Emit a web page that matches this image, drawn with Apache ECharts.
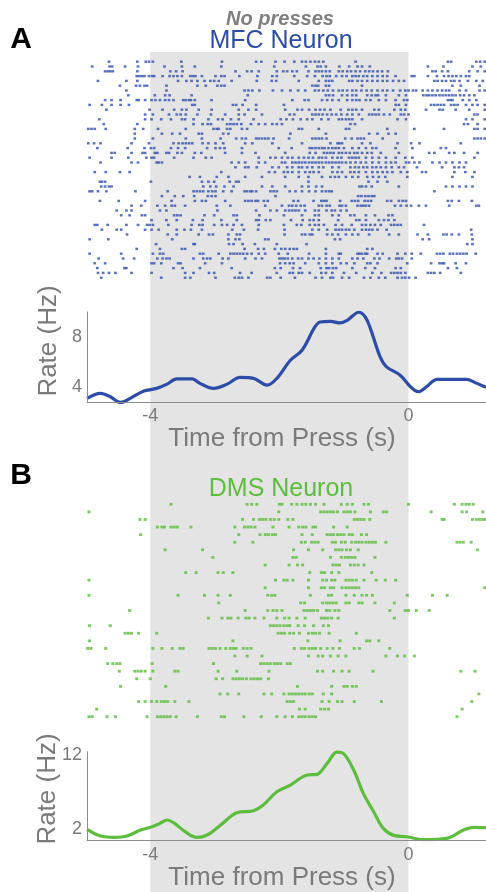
<!DOCTYPE html>
<html><head><meta charset="utf-8">
<script src="https://cdn.jsdelivr.net/npm/echarts@6/dist/echarts.min.js"></script>
<style>html,body{margin:0;padding:0;background:#fff}#c{width:486px;height:892px}</style>
</head><body><div id="c"></div><script>
// ---- data ----
const xTickValues = [-4, 0];
const mfcRateTicks = [4, 8];
const dmsRateTicks = [2, 12];
const shadeRange = [-4, 0];

const mfcRateT  = [-4.98,-4.77,-4.62,-4.46,-4.31,-4.10,-3.90,-3.74,-3.59,-3.35,-3.23,-3.02,-2.81,-2.61,-2.40,-2.19,-2.04,-1.83,-1.65,-1.45,-1.37,-1.21,-1.06,-0.95,-0.77,-0.67,-0.59,-0.44,-0.34,-0.13,0.03,0.15,0.28,0.44,0.65,0.90,1.06,1.20];
const mfcRateHz = [3.07,3.47,3.20,2.74,3.07,3.65,3.87,4.21,4.64,4.64,4.27,3.87,4.21,4.75,4.67,4.13,4.67,6.13,6.93,8.80,9.20,9.25,9.12,9.33,9.98,9.60,8.67,6.40,5.60,4.93,4.00,3.60,4.00,4.59,4.59,4.59,4.27,3.95];

const dmsRateT  = [-4.98,-4.77,-4.56,-4.36,-4.15,-3.97,-3.85,-3.74,-3.64,-3.46,-3.28,-3.12,-2.91,-2.66,-2.40,-2.25,-2.04,-1.83,-1.57,-1.42,-1.26,-1.11,-1.01,-0.85,-0.70,-0.54,-0.39,-0.23,-0.03,0.23,0.59,0.85,1.01,1.20];
const dmsRateHz = [2.00,1.10,0.92,1.10,1.91,2.36,2.81,3.26,2.90,1.69,0.92,1.24,2.58,4.24,4.51,5.27,7.07,7.96,9.31,9.40,10.88,12.40,12.22,9.98,6.84,4.38,2.13,1.19,1.01,0.62,0.79,1.91,2.27,2.22];

const mfcSpikes = [
[-4.64,-4.20,-4.07,-4.02,-3.96,-3.52,-2.89,-2.36,-2.28,-2.06,-1.92,-1.77,-1.65,-1.59,-1.52,-1.45,-1.39,-1.32,-0.82,0.61,0.66,1.05,1.11,1.18],
[-4.90,-4.63,-4.59,-4.39,-4.19,-3.78,-3.51,-3.31,-2.90,-2.08,-1.59,-1.41,-1.36,-1.28,-1.07,-0.92,-0.79,-0.72,-0.60,0.30,0.54,0.99,1.12],
[-4.70,-4.66,-4.62,-4.58,-4.20,-3.69,-3.60,-3.50,-2.68,-2.50,-2.43,-2.32,-2.04,-1.94,-1.88,-1.80,-1.73,-1.55,-1.44,-1.39,-1.34,-1.28,-1.22,-1.08,-1.02,-0.95,-0.89,-0.82,-0.75,-0.67,-0.61,-0.55,-0.48,-0.41,-0.32,0.37,0.42,0.52,0.61,0.94,1.07,1.18],
[-4.21,-4.17,-4.13,-4.09,-4.02,-3.97,-3.94,-3.81,-3.70,-3.64,-3.58,-3.51,-3.38,-3.34,-3.30,-3.20,-2.99,-2.90,-2.85,-2.62,-2.34,-2.11,-2.04,-1.77,-1.57,-1.45,-1.33,-1.27,-1.22,-1.12,-1.03,-0.96,-0.87,-0.82,-0.77,-0.70,-0.64,-0.56,-0.48,-0.40,-0.33,-0.20,0.05,0.09,0.30,0.44,0.55,0.62,0.68,0.74,0.81,0.89,0.94],
[-4.81,-4.37,-4.20,-3.57,-3.44,-3.36,-3.27,-3.16,-3.07,-3.01,-2.94,-2.74,-2.35,-2.12,-2.05,-1.70,-1.39,-1.28,-1.23,-1.18,-0.92,-0.87,-0.79,-0.72,-0.64,-0.56,-0.48,-0.40,-0.33,-0.24,-0.15,-0.07,0.40,0.45,0.52,0.58,0.66,0.71,0.79,0.92,1.05,1.15],
[-4.47,-4.22,-4.16,-4.09,-4.05,-3.75,-3.27,-3.14,-2.96,-2.90,-2.85,-1.49,-1.44,-1.40,-1.28,-1.23,-0.72,0.68,0.81,1.10],
[-4.37,-3.75,-2.54,-2.48,-2.42,-2.31,-2.10,-1.96,-1.83,-1.71,-1.60,-1.45,-1.39,-1.32,-1.25,-1.17,-1.08,-1.02,-0.95,-0.87,-0.81,-0.73,-0.65,-0.57,-0.48,-0.40,-0.33,-0.24,-0.13,-0.05,0.00,0.07,0.12,0.22,0.30,0.37,0.45,0.52,0.58,0.63,0.79,0.89,1.10,1.18],
[-4.34,-3.93,-3.77,-3.70,-3.36,-2.49,-1.28,-1.23,-1.17,-1.03,-0.95,-0.87,-0.81,-0.64,-0.57,-0.51,-0.47,-0.35,-0.15,-0.04,0.23,0.28,0.32,0.37,0.42,0.48,0.53,0.58,0.63,0.68,0.73,0.80,0.86,0.94,1.02],
[-4.70,-4.60,-4.46,-4.21,-4.18,-4.08,-3.98,-3.92,-3.85,-3.77,-3.71,-3.64,-3.49,-3.45,-3.40,-3.37,-3.31,-3.05,-2.53,-1.80,-1.61,-1.55,-1.34,-1.26,-1.18,-1.08,-0.95,-0.87,-0.81,-0.76,-0.66,-0.59,-0.46,-0.35,-0.20,-0.07,-0.02,0.61,0.65,0.68,0.84,0.94,1.05],
[-4.94,-4.75,-4.60,-4.46,-4.33,-3.35,-3.31,-2.72,-2.67,-2.57,-2.36,-1.93,-0.20,-0.15,-0.04,0.35,0.40,0.45,0.50,0.55,0.66,0.71,0.76,0.89,0.99,1.07,1.18],
[-4.68,-4.01,-3.81,-3.63,-3.51,-3.44,-3.25,-3.05,-2.63,-2.48,-2.36,-1.91,-1.72,-1.65,-1.54,-1.44,-1.37,-1.30,-1.21,-1.05,-0.93,-0.87,-0.81,-0.72,-0.53,-0.46,-0.22,-0.12,-0.05,0.27,0.48,0.53,0.73,0.94,1.18],
[-4.08,-3.96,-3.71,-3.59,-3.53,-3.45,-3.27,-3.06,-2.84,-2.63,-2.54,-2.27,-1.84,-1.77,-1.49,-1.44,-1.39,-1.33,-1.26,-1.19,-1.12,-1.04,-0.95,-0.87,-0.77,-0.61,-0.56,-0.51,-0.46,-0.38,-0.29,-0.12,-0.07,0.00,1.02,1.07],
[-4.79,-4.08,-3.98,-3.83,-3.68,-3.51,-3.46,-3.33,-3.10,-2.95,-2.88,-2.75,-2.63,-2.40,-1.98,-1.89,-1.79,-1.67,-1.57,-1.49,-1.35,-1.24,-1.08,-1.03,-0.97,-0.92,-0.87,-0.72,-0.17,-0.04,0.89,0.99,1.18],
[-4.72,-4.20,-3.33,-3.19,-3.11,-3.06,-2.81,-2.76,-2.71,-2.66,-2.59,-2.44,-2.32,-2.22,-2.11,-2.04,-1.96,-0.90,-0.83,0.86,0.92,1.07],
[-4.96,-4.91,-4.86,-4.69,-4.24,-4.11,-3.88,-3.45,-3.02,-2.97,-2.94,-2.81,-2.76,-2.58,-2.50,-1.70,-1.65,-1.39,-0.97,-0.92,-0.33,0.09,0.55,1.02,1.07,1.18],
[-4.24,-3.82,-3.66,-3.54,-3.25,-3.20,-2.87,-2.79,-1.83,-1.28,-0.61,-0.48,-0.31,-0.20],
[-4.24,-3.96,-3.45,-3.20,-2.91,-2.67,-2.58,-2.52,-2.36,-2.32,-2.27,-2.22,-2.17,-2.09,-1.85,-1.49,-1.44,-1.39,-1.34,-1.27,-0.98,-0.88,-0.79,-0.74,-0.69,-0.40,1.02,1.07,1.12,1.18],
[-4.96,-4.87,-4.77,-4.29,-4.02,-3.64,-3.56,-3.50,-3.45,-3.40,-3.35,-3.19,-3.10,-2.99,-2.87,-2.53,-2.42,-2.11,-1.65,-1.21,-1.10,-1.07,-1.03,-0.72,-0.59,-0.17,0.04,0.17,0.81],
[-4.82,-4.35,-4.09,-3.99,-3.94,-3.68,-3.57,-3.46,-3.12,-2.99,-2.92,-2.85,-2.58,-2.01,-1.81,-1.53,-1.49,-1.44,-1.39,-1.34,-1.30,-1.24,-1.18,-1.13,-1.08,-1.00,-0.87,-0.77,-0.66,-0.56,-0.50,-0.20,0.06,0.50,0.58],
[-4.60,-4.55,-4.29,-4.12,-4.08,-3.93,-3.89,-3.75,-3.71,-3.58,-3.51,-3.31,-3.21,-2.84,-2.58,-2.37,-1.91,-1.53,-1.44,-1.31,-1.26,-1.21,-1.16,-1.08,-1.03,-0.97,-0.91,-0.84,-0.79,-0.72,-0.64,-0.57,-0.43,-0.15,0.32,0.40,0.63,0.71,0.86,1.07],
[-4.94,-4.60,-4.34,-4.06,-3.98,-3.94,-3.63,-3.33,-3.14,-3.05,-2.32,-2.14,-2.06,-1.96,-1.87,-1.80,-1.70,-1.62,-1.55,-1.48,-1.39,-1.34,-1.28,-1.18,-1.10,-1.04,-0.92,-0.87,-0.82,-0.77,-0.66,-0.56,-0.46,-0.35,-0.20,-0.05,0.06,1.02],
[-4.77,-4.29,-4.19,-3.90,-3.87,-3.82,-2.74,-2.63,-2.53,-2.32,-2.22,-1.96,-1.91,-1.80,-1.75,-1.70,-1.65,-1.60,-1.54,-1.49,-1.44,-1.39,-1.34,-1.28,-1.23,-1.18,-1.13,-1.08,-1.03,-0.97,-0.90,-0.82,-0.74,-0.66,-0.56,-0.46,-0.35,-0.27,-0.20,-0.04,0.01,0.09,0.17,0.37,0.48,0.58,0.68,0.79,0.89],
[-2.68,-2.53,-2.48,-2.35,-2.11,-2.01,-1.88,-1.80,-1.70,-1.65,-1.57,-1.49,-1.39,-1.32,-1.18,-1.08,-0.90,-0.83,-0.77,-0.70,-0.64,-0.56,-0.50,-0.43,-0.35,-0.26,-0.15,-0.07,0.13,0.52,0.71,0.78,0.86],
[-4.86,-4.69,-4.47,-4.32,-2.90,-2.16,-2.07,-1.93,-1.87,-1.80,-1.70,-1.60,-1.53,-1.47,-1.39,-1.18,-1.10,-1.03,-0.90,-0.84,-0.77,-0.66,-0.56,-0.48,-0.40,-0.33,-0.25,-0.12,-0.02,0.21,0.27,0.71,0.88,1.02],
[-3.39,-3.23,-2.97,-2.79,-2.53,-2.27,-1.91,-1.70,-1.55,-1.34,-1.21,-1.14,-1.08,-0.97,-0.87,-0.78,-0.64,-0.55,-0.46,-0.36,-0.02,0.68,0.99],
[-4.78,-4.75,-4.70,-3.99,-3.20,-3.10,-3.01,-2.77,-2.67,-2.63,-1.55,-0.62,-0.48,-0.33],
[-4.76,-4.70,-4.64,-4.60,-3.18,-3.07,-2.98,-2.85,-2.71,-2.27,-2.11,-1.91,-1.65,-1.55,-1.43,-1.34,-0.76,-0.72,-0.66,-0.57,-0.15,0.58,0.68,0.79,0.89,0.99],
[-4.94,-4.90,-4.81,-4.68,-4.23,-3.73,-3.33,-3.28,-3.23,-3.18,-3.10,-3.04,-2.99,-2.87,-2.74,-2.54,-2.50,-2.45,-2.42,-2.36,-2.14,-2.09,-2.04,-1.84,-1.75,-1.65,-1.54,-1.44,-1.34,-1.28,-1.23,-1.19,0.40],
[-3.82,-3.62,-3.49,-3.32,-3.11,-3.05,-2.99,-2.06,-0.78,-0.73,-0.67,-0.62,-0.57,-0.53],
[-4.78,-4.49,-4.08,-3.67,-3.31,-3.20,-3.14,-2.84,-2.53,-2.48,-2.43,-2.37,-2.33,-2.24,-2.18,-1.78,-1.71,-1.47,-1.35,-1.31,-1.27,-1.06,-0.88,-0.83,-0.78,-0.68,-0.63,-0.58,-0.33,-0.27,-0.15,-0.09,-0.04,0.61,0.67,0.78,0.98],
[-4.29,-4.14,-3.89,-3.77,-3.67,-3.62,-3.46,-2.97,-2.76,-2.22,-1.96,-1.85,-1.80,-1.74,-1.67,-1.61,-1.39,-1.34,-1.27,-1.22,-1.07,-1.03,-0.97,-0.79,-0.74,-0.70,-0.66,-0.61,-0.21,-0.12,-0.03,0.04,0.16,0.27,0.63,1.05,1.09],
[-4.52,-4.37,-4.29,-3.85,-3.75,-2.96,-2.36,-2.14,-2.04,-1.91,-1.85,-1.80,-1.75,-1.70,-1.60,-1.45,-1.39,-1.27,-1.19,-1.14,-1.05,-0.96],
[-4.45,-4.32,-4.13,-4.08,-3.63,-3.58,-3.53,-3.16,-3.01,-2.71,-2.66,-2.31,-1.93,-1.65,-1.45,-1.39,-1.18,-1.08,-0.90,-0.84,-0.66,-0.52,-0.31,-0.25],
[-3.98,-3.75,-3.59,-3.34,-3.19,-2.90,-2.66,-2.36,-2.32,-2.21,-2.14,-1.82,-1.64,-1.53,-1.47,-1.39,-1.09,-0.81,-0.76,-0.66,-0.46,-0.38,-0.31,-0.22],
[-4.86,-4.82,-4.66,-4.37,-4.19,-4.05,-4.01,-3.96,-3.72,-3.36,-3.24,-3.19,-3.01,-2.89,-2.81,-2.71,-2.58,-2.32,-1.93,-1.73,-1.66,-1.53,-1.45,-1.39,-1.31,-1.13,-1.03,-0.88,-0.72,-0.66,-0.59,-0.52,-0.43,-0.27,-0.22,-0.17,-0.12,0.24],
[-4.75,-4.52,-4.45,-4.08,-3.98,-3.87,-3.59,-3.47,-3.37,-3.20,-2.73,-2.55,-2.33,-1.92,-1.49,-1.39,-1.26,-1.13,-1.08,-1.03,-0.97,-0.92,-0.84,-0.72,-0.66,-0.61,-0.56,-0.48,-0.34,0.97],
[-4.36,-3.73,-3.59,-3.25,-3.09,-3.03,-2.79,-2.66,-2.61,-1.92,-1.65,-1.60,-1.53,-1.49,-1.26,-1.18,-1.09,-0.97,-0.87,-0.78,-0.61,-0.30,-0.15,0.14,0.30,0.54,0.59,0.67,0.78,0.98],
[-4.94,-4.65,-3.66,-2.79,-2.68,-2.62,-2.22,-2.17,-1.14,-1.06,0.22,0.32,0.99],
[-3.91,-3.33,-3.31,-2.78,-2.71,-2.57,-2.38,-2.04,-1.58,0.91,0.99],
[-4.21,-3.85,-3.51,-3.46,-2.54,-2.33,-2.24,-2.07,-1.97,-1.91,-1.84,-1.78,-1.73,-1.28,-0.64,-0.56],
[-4.94,-4.45,-3.96,-3.85,-3.80,-3.23,-3.18,-2.94,-2.76,-2.71,-2.66,-2.61,-2.56,-2.50,-2.43,-2.32,-2.22,-2.01,-1.87,-1.54,-1.28,-1.08,-1.05,-0.79,-0.76,-0.72,-0.67,-0.64,-0.48,-0.40,-0.17,-0.05,0.05,0.19,0.44,0.49,0.54,0.64,0.69,0.75,0.80,0.85,0.90,1.04],
[-4.80,-4.42,-4.25,-3.89,-3.81,-3.75,-3.70,-3.33,-3.18,-3.12,-3.07,-2.88,-2.79,-2.53,-2.37,-2.27,-2.00,-1.96,-1.92,-1.87,-1.80,-1.71,-1.65,-1.55,-1.47,-1.38,-1.28,-1.18,-1.08,-0.87,-0.79,-0.70,-0.53,-0.45,-0.30,-0.19,-0.15,-0.10,0.05],
[-4.86,-4.70,-3.98,-3.94,-3.83,-3.57,-3.53,-3.15,-2.89,-1.99,-1.91,-1.84,-1.78,-1.60,-1.39,-1.28,-1.18,-1.05,-0.96,-0.84,-0.64,-0.59,-0.48,-0.02,0.35,0.48,0.52,0.55,0.73,0.89],
[-4.82,-4.40,-4.37,-3.64,-3.50,-3.23,-2.74,-2.07,-1.98,-1.79,-1.68,-1.36,-1.27,-1.23,-1.17,-1.12,-0.87,-0.67,-0.52,-0.20,-0.12,0.61,0.75],
[-4.81,-4.73,-4.64,-4.54,-4.29,-3.98,-3.46,-3.33,-3.09,-3.01,-2.61,-2.43,-2.04,-1.84,-1.79,-1.70,-1.65,-1.53,-1.35,-1.28,-1.18,-1.00,-0.81,-0.56,-0.42,-0.27,-0.22,-0.17,-0.12,-0.05,0.30,0.35,0.40,0.49,0.81],
[-4.76,-3.83,-3.46,-3.38,-2.99,-2.69,-2.63,-2.58,-2.48,-2.19,-2.14,-1.98,-1.76,-1.44,-1.34,-1.21,-1.17,-1.03,-0.92,-0.69,-0.59,-0.46,-0.36,-0.17,-0.10,-0.05,0.01,0.11]
];

const dmsSpikes = [
[-3.68,-2.50,-2.43,-2.35,-2.00,-1.96,-1.81,-1.73,-1.65,-1.59,-1.52,-1.44,-1.31,-1.04,-0.95,-0.87,-0.69,-0.62,0.00,0.71,0.83,0.89,0.94,1.00],
[-4.95,-2.01,-1.36,-1.31,-1.26,-1.21,-1.16,-1.10,-1.00,-0.95,-0.90,-0.83,-0.59,-0.39,-0.34,0.35,0.83,0.90,1.15],
[-4.16,-4.08,-2.57,-2.40,-2.31,-2.26,-2.21,-2.14,-2.08,-2.01,-1.87,-1.79,-0.84,-0.79,-0.74,-0.69,-0.60,0.52,0.55,0.99,1.05,1.10,1.15,1.19],
[-3.89,-3.82,-3.78,-3.68,-3.63,-3.58,-3.37,-2.69,-2.54,-2.49,-2.44,-2.38,-2.10,-1.85,-1.70,-1.64,-1.59,-1.48,-1.44,-1.16,-0.95],
[-4.15,-2.63,-2.30,-2.22,-2.17,-2.11,-2.06,-1.65,-1.49,-1.26,-1.21,-1.16,-1.10,-1.05,-1.00,-0.92,-0.87,-0.73,-0.65],
[-2.69,-2.41,-1.66,-1.60,-1.50,-1.45,-1.40,-1.18,-1.13,-1.04,-0.98,-0.88,-0.82,-0.77,-0.72,-0.66,-0.61,-0.56,-0.51,-0.35,0.75,0.80,0.85,0.97],
[-3.77,-3.19,-1.78,-1.55,-1.33,-1.13,-1.08,-1.03,-0.96,-0.90,-0.78,1.07],
[-3.03,-1.79,-1.74,-1.21,-1.04,-0.98,-0.93,-0.88,-0.83,-0.52],
[-2.22,-1.85,-1.72,-1.64,-1.17,-1.12,-1.07,-0.90,-0.84,-0.78,-0.69],
[-3.45,-3.29,-2.95,-2.87,-2.72,-1.53,-1.35,-1.30,-1.19,-1.08,-0.57],
[-4.95,-2.06,-1.93,-1.88,-1.79,-1.55,-1.33,-1.27,-1.19,-1.14,-0.97,-0.92,-0.87,-0.81,-0.69,-0.50,-0.36,-0.20],
[-2.22,-1.55,-1.35,-1.30,-1.21,-1.16,-1.03,-0.97,-0.92,-0.87,-0.82,-0.77,1.18],
[-4.95,-3.57,-3.16,-2.95,-2.76,-2.18,-2.12,-2.07,-1.52,-1.24,-1.19,-0.97,-0.84,-0.72,-0.65,-0.56,-0.02,0.37,0.60],
[-2.94,-1.67,-1.61,-1.33,-1.27,-1.22,-1.17,-1.12,-0.97,-0.92,-0.77,-0.72,-0.52,-0.22],
[-4.32,-2.53,-2.18,-2.10,-2.04,-1.96,-1.62,-1.57,-1.52,-1.47,-1.41,-1.27,-1.22,-1.14,-1.08,-0.29,-0.05,0.00,0.12,0.32],
[-3.10,-2.89,-2.80,-2.75,-2.64,-2.52,-2.47,-2.38,-2.24,-2.04,-1.92,-1.85,-1.73,-1.60,-1.35,-1.30,-1.25,-1.19,-1.09,-0.22],
[-4.94,-4.62,-2.14,-2.09,-2.04,-1.99,-1.93,-1.88,-1.84,-1.71,-1.61,-1.47,-1.32,-1.24],
[-4.39,-4.34,-4.29,-4.18,-3.90,-2.02,-1.97,-1.92,-1.84,-1.78,-1.69,-1.55,-1.49,-1.44,-1.38,-1.23,-0.81],
[-4.94,-2.72,-1.56,-1.06,-0.65,-0.60,-0.46],
[-4.97,-4.92,-4.69,-3.96,-3.82,-3.66,-3.54,-3.49,-3.09,-3.04,-2.99,-2.92,-2.83,-2.76,-2.71,-2.67,-2.56,-2.50,-2.44,-1.77,-1.66,-1.61,-1.54,-1.49,-1.44,-1.36,-1.26,-1.17,-1.07,-0.84,-0.76,-0.29],
[-2.69,-2.50,-2.27,-1.55,-1.40,-1.33,-1.21,-1.09,-0.97,-0.35,-0.17,-0.06,0.09],
[-4.66,-4.58,-4.52,-4.47,-3.97,-3.02,-2.29,-2.24,-2.19,-2.14,-2.08,-2.03,-1.98,-1.88,-1.83],
[-4.48,-4.24,-4.19,-4.14,-4.08,-3.96,-3.62,-3.57,-2.95,-2.66,-2.16,-1.41,-1.33,-1.16,-1.03,-0.92,-0.55,0.81,1.03],
[-4.21,-4.00,-2.98,-2.88,-2.72,-2.67,-2.62,-2.57,-2.51,-2.44,-2.39,-2.34,-2.29,-2.17],
[-4.46,-3.76,-1.72,-1.19,-1.00,-0.95,-0.87,-0.81],
[-2.92,-2.80,-2.63,-2.24,-2.12,-1.93,-1.85,-1.80,-1.75,-1.70,-1.65,-1.60,-1.54,-1.49,-1.32,-1.19,1.09],
[-4.18,-4.08,-3.98,-3.90,-3.83,-3.78,-3.73,-3.62,-3.40,-1.88,-1.83,-1.78,-1.34,-1.23,-1.10,-1.03,-0.84,-0.42,0.98],
[-4.83,-1.69,-1.60,-1.36,-1.30,-1.24,0.83],
[-4.95,-4.90,-4.67,-4.54,-4.05,-3.89,-3.84,-3.79,-3.74,-3.69,-3.60,-3.27,-2.90,-2.85,-2.55,-2.28,-2.04,-1.91,-1.80,-1.70,-1.65,-1.60,-1.54,-1.49,-1.44,0.75]
];

// ---- styling ----
const FONT = '"Liberation Sans", Arial, sans-serif';
const GRAY = '#7a7a7a';
const AXC = '#8c8c8c';
const BLUE = '#2d4ca7';
const DOTBLUE = '#2f4fac';
const GREEN = '#5dbd3d';
const SHADE = '#e4e4e4';
const X_MIN = -4.98, X_MAX = 1.2;
const LEFT = 87;

function toPoints(rows){
  const out=[];
  rows.forEach((r,i)=>r.forEach(t=>out.push([t,i+1])));
  return out;
}
function pairs(xs,ys){ return xs.map((x,i)=>[x,ys[i]]); }

const grids = [
  {left:LEFT, right:0, top:52, bottom:0},          // shade
  {left:LEFT, right:0, top:59.3, height:220.8},    // MFC raster
  {left:LEFT, right:0, top:312, height:90.7},      // MFC rate
  {left:LEFT, right:0, top:500.5, height:220},     // DMS raster
  {left:LEFT, right:0, top:751.7, height:88.3}     // DMS rate
];

function hiddenX(g){ return {type:'value',gridIndex:g,min:X_MIN,max:X_MAX,show:false}; }
function rateX(g,margin){
  return {type:'value',gridIndex:g,min:X_MIN,max:X_MAX,z:10,
    axisLine:{show:true,onZero:false,lineStyle:{color:AXC,width:1}},
    axisTick:{show:false},splitLine:{show:false},
    axisLabel:{show:true,customValues:xTickValues,color:GRAY,fontSize:18,fontFamily:FONT,margin:margin,formatter:v=>String(v)}};
}
function rateY(g,min,max,ticks){
  return {type:'value',gridIndex:g,min:min,max:max,z:10,position:'left',
    axisLine:{show:true,onZero:false,lineStyle:{color:AXC,width:1}},
    axisTick:{show:false},splitLine:{show:false},
    axisLabel:{show:true,customValues:ticks,color:GRAY,fontSize:18,fontFamily:FONT,margin:5}};
}
function rasterY(g,n){ return {type:'value',gridIndex:g,min:0.5,max:n+0.5,inverse:true,show:false}; }

function txt(text,x,y,font,color,rot){
  return {type:'text',x:x,y:y,rotation:rot||0,z:100,
    style:{text:text,font:font,fill:color,textAlign:'center',textVerticalAlign:'middle',align:'center',verticalAlign:'middle'}};
}

const chart = echarts.init(document.getElementById('c'),null,{renderer:'canvas'});
chart.setOption({
  animation:false,
  backgroundColor:'#ffffff',
  grid:grids,
  xAxis:[hiddenX(0),hiddenX(1),rateX(2,4),hiddenX(3),rateX(4,6)],
  yAxis:[{type:'value',gridIndex:0,min:0,max:1,show:false},
         rasterY(1,mfcSpikes.length),
         rateY(2,2.72,10,mfcRateTicks),
         rasterY(3,dmsSpikes.length),
         rateY(4,0.57,12.45,dmsRateTicks)],
  series:[
    {type:'line',xAxisIndex:0,yAxisIndex:0,data:[[X_MIN,-1]],symbol:'none',lineStyle:{opacity:0},z:-5,silent:true,
      markArea:{silent:true,z:-5,itemStyle:{color:SHADE,borderWidth:0},label:{show:false},
        data:[[{xAxis:shadeRange[0]},{xAxis:shadeRange[1]}]]}},
    {type:'scatter',xAxisIndex:1,yAxisIndex:1,data:toPoints(mfcSpikes),symbol:'rect',symbolSize:[2.7,2.4],
      itemStyle:{color:DOTBLUE},z:3,silent:true},
    {type:'line',xAxisIndex:2,yAxisIndex:2,data:pairs(mfcRateT,mfcRateHz),smooth:0.35,symbol:'none',
      lineStyle:{color:BLUE,width:3.2},z:3,silent:true},
    {type:'scatter',xAxisIndex:3,yAxisIndex:3,data:toPoints(dmsSpikes),symbol:'rect',symbolSize:[3,2.8],
      itemStyle:{color:GREEN},z:3,silent:true},
    {type:'line',xAxisIndex:4,yAxisIndex:4,data:pairs(dmsRateT,dmsRateHz),smooth:0.35,symbol:'none',
      lineStyle:{color:GREEN,width:3.2},z:3,silent:true}
  ],
  graphic:[
    txt('A',21,40,'bold 30px '+FONT,'#000000'),
    txt('No presses',280,19,'italic bold 20px '+FONT,'#7f7f7f'),
    txt('MFC Neuron',281,41,'25px '+FONT,BLUE),
    txt('Rate (Hz)',49,341,'26px '+FONT,GRAY,Math.PI/2),
    txt('Time from Press (s)',282,439,'26px '+FONT,GRAY),
    txt('B',21,476,'bold 30px '+FONT,'#000000'),
    txt('DMS Neuron',281,489,'25px '+FONT,GREEN),
    txt('Rate (Hz)',48,789,'26px '+FONT,GRAY,Math.PI/2),
    txt('Time from Press (s)',282,878,'26px '+FONT,GRAY)
  ]
});
</script></body></html>
